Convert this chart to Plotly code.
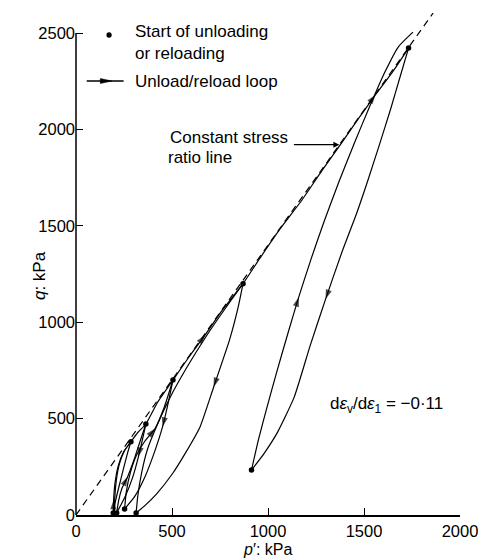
import plotly.graph_objects as go

# ---------------- data (p', q in kPa) ----------------
ratio_p = [0, 1860]
ratio_q = [0, 2604]

initial_p = [200, 202, 210, 226, 250, 286]
initial_q = [0, 90, 180, 265, 330, 380]

main_p = [286, 322, 364, 425, 505, 590, 672, 760, 870, 960, 1060, 1177, 1280, 1380, 1470, 1560, 1650, 1732]
main_q = [380, 428, 472, 585, 700, 822, 933, 1060, 1200, 1335, 1480, 1634, 1785, 1925, 2055, 2180, 2300, 2422]
main_arrows = [6, 15]

l1_unload_p = [286, 268, 246, 222, 204, 194]
l1_unload_q = [380, 320, 235, 140, 65, 10]
l1_reload_p = [194, 196, 203, 220, 250, 286]
l1_reload_q = [10, 78, 165, 255, 330, 380]

l2_unload_p = [364, 348, 325, 295, 258, 230, 212]
l2_unload_q = [472, 400, 302, 195, 100, 45, 10]
l2_reload_p = [212, 222, 240, 269, 300, 333, 364]
l2_reload_q = [10, 75, 140, 199, 280, 380, 472]

l3_unload_p = [505, 482, 451, 410, 360, 305, 253]
l3_unload_q = [700, 590, 458, 330, 200, 95, 31]
l3_reload_p = [253, 262, 283, 315, 360, 412, 460, 505]
l3_reload_q = [31, 120, 220, 310, 385, 449, 560, 700]

l4_unload_p = [870, 845, 800, 717, 646, 575, 505, 420, 360, 313]
l4_unload_q = [1200, 1080, 910, 664, 457, 330, 218, 110, 50, 10]
l4_reload_p = [313, 322, 342, 372, 420, 490, 580, 680, 780, 870]
l4_reload_q = [10, 100, 220, 340, 460, 610, 770, 930, 1075, 1200]

l5_unload_p = [1732, 1690, 1640, 1580, 1520, 1460, 1389, 1300, 1220, 1136, 1050, 980, 914]
l5_unload_q = [2422, 2280, 2110, 1920, 1735, 1560, 1375, 1120, 880, 610, 430, 320, 233]
l5_reload_p = [914, 950, 995, 1045, 1100, 1160, 1225, 1295, 1370, 1450, 1530, 1610, 1680, 1755]
l5_reload_q = [233, 390, 560, 740, 930, 1130, 1330, 1530, 1730, 1930, 2120, 2300, 2430, 2505]

start_p = [286, 364, 505, 870, 1732, 194, 212, 253, 313, 914]
start_q = [380, 472, 700, 1200, 2422, 10, 10, 31, 10, 233]

x_ticks = [0, 500, 1000, 1500, 2000]
y_ticks = [0, 500, 1000, 1500, 2000, 2500]
x_range = [0, 2000]
y_range = [0, 2604]

# ---------------- figure ----------------
fig = go.Figure()
LW = 1.2

fig.add_trace(go.Scatter(x=ratio_p, y=ratio_q, mode="lines",
                         line=dict(color="black", width=1.2, dash="7px,5px"),
                         hoverinfo="skip"))

curves = [
    (initial_p, initial_q, []),
    (main_p, main_q, main_arrows),
    (l1_unload_p, l1_unload_q, []),
    (l1_reload_p, l1_reload_q, [1]),
    (l2_unload_p, l2_unload_q, [2]),
    (l2_reload_p, l2_reload_q, [3]),
    (l3_unload_p, l3_unload_q, [2]),
    (l3_reload_p, l3_reload_q, [5]),
    (l4_unload_p, l4_unload_q, [3]),
    (l4_reload_p, l4_reload_q, []),
    (l5_unload_p, l5_unload_q, [7]),
    (l5_reload_p, l5_reload_q, [5]),
]

for cx, cy, arr in curves:
    fig.add_trace(go.Scatter(x=cx, y=cy, mode="lines",
                             line=dict(color="black", width=LW, shape="spline", smoothing=0.5),
                             hoverinfo="skip"))
    if arr:
        sizes = [10 if i in arr else 0 for i in range(len(cx))]
        fig.add_trace(go.Scatter(x=cx, y=cy, mode="markers",
                                 marker=dict(symbol="arrow", size=sizes, color="black",
                                             angleref="previous", line=dict(width=0)),
                                 hoverinfo="skip"))

fig.add_trace(go.Scatter(x=start_p, y=start_q, mode="markers",
                         marker=dict(symbol="circle", size=5.5, color="black"),
                         cliponaxis=False, hoverinfo="skip"))

FONT = "Liberation Sans, Arial, sans-serif"
tickfont = dict(family=FONT, size=16.5, color="black")

fig.update_xaxes(range=x_range, tickvals=x_ticks, ticks="inside", ticklen=7, tickwidth=1.2,
                 tickcolor="black", showline=True, linecolor="black", linewidth=1.5,
                 showgrid=False, zeroline=False, tickfont=tickfont)
fig.update_yaxes(range=y_range, tickvals=y_ticks, ticks="inside", ticklen=7, tickwidth=1.2,
                 tickcolor="black", showline=False, showgrid=False, zeroline=False,
                 tickfont=tickfont)

ytop = y_ticks[-1] / y_range[1]
shapes = [
    dict(type="line", xref="paper", yref="paper", x0=0, x1=0, y0=0, y1=ytop,
         line=dict(color="black", width=1.5)),
]

# legend decorations (paper coords)
def px2paper(px, py):
    return (px - 76) / 395.0, (515 - py) / 502.0

dx, dy = px2paper(110, 35)
shapes.append(dict(type="circle", xref="paper", yref="paper",
                   x0=dx - 2.7 / 395, x1=dx + 2.7 / 395, y0=dy - 2.7 / 502, y1=dy + 2.7 / 502,
                   fillcolor="black", line=dict(color="black", width=0)))
lx0, ly = px2paper(87, 81)
lx1, _ = px2paper(125, 81)
shapes.append(dict(type="line", xref="paper", yref="paper", x0=lx0, x1=lx1, y0=ly, y1=ly,
                   line=dict(color="black", width=1.3)))
ax0, _ = px2paper(101, 81)
ax1, _ = px2paper(113, 81)
shapes.append(dict(type="path", xref="paper", yref="paper",
                   path=f"M {ax0},{ly + 2.5/502} L {ax1},{ly} L {ax0},{ly - 2.5/502} Z",
                   fillcolor="black", line=dict(color="black", width=0.5)))

txtfont = dict(family=FONT, size=17, color="black")
ann = []
def add_text(text, px, py, xanchor="left", font=txtfont, **kw):
    x, y = px2paper(px, py)
    ann.append(dict(text=text, x=x, y=y, xref="paper", yref="paper", xanchor=xanchor,
                    yanchor="middle", showarrow=False, font=font, **kw))

add_text("Start of unloading", 135, 32)
add_text("or reloading", 135, 53)
add_text("Unload/reload loop", 135, 81)
add_text("Constant stress", 296, 137, xanchor="right")
add_text("ratio line", 169, 158)
add_text("d<i>ε</i><sub>v</sub>/d<i>ε</i><sub>1</sub> = −0·11", 335, 405)
add_text("<i>q</i>: kPa", 38, 276, xanchor="center", textangle=-90)
add_text("<i>p</i>′: kPa", 273, 549, xanchor="center",
         font=dict(family=FONT, size=16, color="black"))

# arrow pointing to the constant stress ratio line
ann.append(dict(x=1372, y=1921, xref="x", yref="y", ax=-47, ay=0, text="",
                showarrow=True, arrowhead=2, arrowsize=1.1, arrowwidth=1.1, arrowcolor="black"))

fig.update_layout(width=490, height=558, margin=dict(l=76, r=19, t=13, b=43),
                  paper_bgcolor="white", plot_bgcolor="white", showlegend=False,
                  shapes=shapes, annotations=ann)

fig.write_html("out.html")
